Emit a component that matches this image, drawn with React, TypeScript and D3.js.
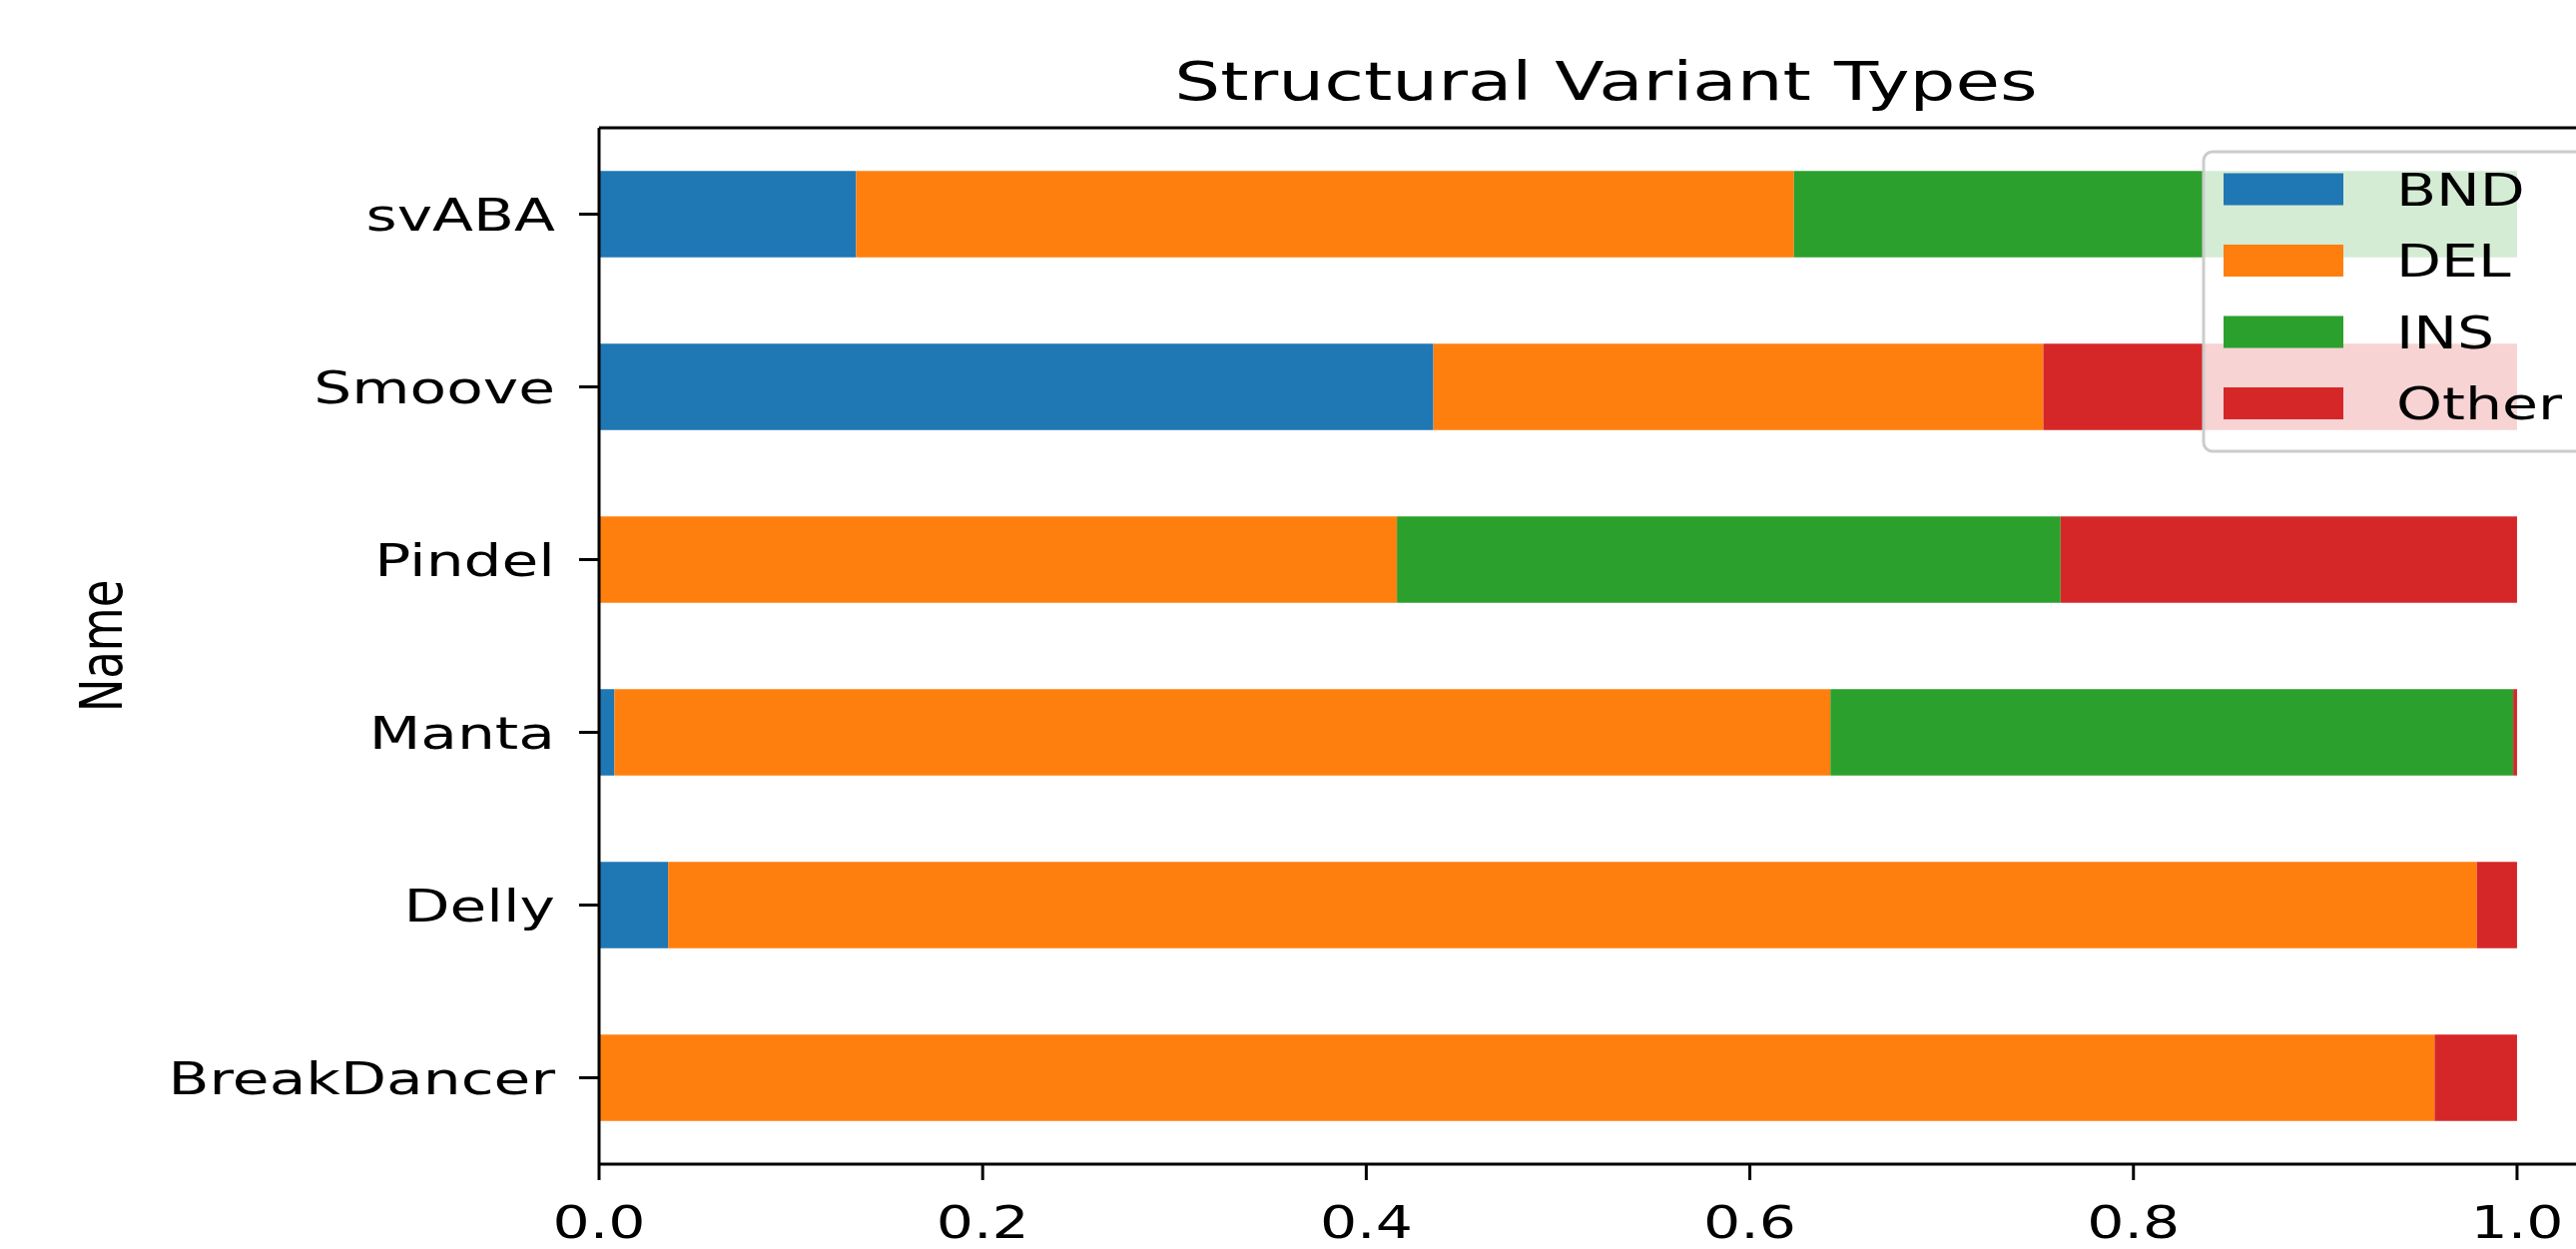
import React, { useEffect } from "react";
import * as d3 from "d3";

const names = ["svABA", "Smoove", "Pindel", "Manta", "Delly", "BreakDancer"];
const seriesKeys = ["BND", "DEL", "INS", "Other"];
const bnd = [0.134, 0.435, 0.0, 0.008, 0.036, 0.0];
const del = [0.489, 0.318, 0.416, 0.634, 0.943, 0.957];
const ins = [0.377, 0.0, 0.346, 0.356, 0.0, 0.0];
const other = [0.0, 0.247, 0.238, 0.002, 0.021, 0.043];
const colors = ["#1f77b4", "#ff7f0e", "#2ca02c", "#d62728"];
const xTicks = [0, 0.2, 0.4, 0.6, 0.8, 1.0];
const title = "Structural Variant Types";
const yLabel = "Name";

const W = 2580;
const H = 1251;
const left = 600;
const right = 2617;
const top = 128;
const bottom = 1166;
const SX = 1.3;
const FONT = "DejaVu Sans, sans-serif";

export default function App() {
  useEffect(() => {
    document.body.style.margin = "0";
  }, []);

  const x = d3.scaleLinear().domain([0, 1.05]).range([left, right]);
  const y = d3.scaleBand<string>().domain(names).range([top, bottom]).paddingInner(0.5).paddingOuter(0.25);

  const rows = names.map((n, i) => ({ name: n, BND: bnd[i], DEL: del[i], INS: ins[i], Other: other[i] }));
  const stacked = d3.stack<any>().keys(seriesKeys)(rows);

  const legendX = 2207;
  const legendY = 152;
  const rowH = 71.5;

  return (
    <svg width={W} height={H} style={{ display: "block", background: "#fff" }} xmlns="http://www.w3.org/2000/svg">
      <rect x={0} y={0} width={W} height={H} fill="#fff" />
      {stacked.map((s, si) => (
        <g key={s.key} fill={colors[si]}>
          {s.map((d: any, i: number) =>
            d[1] - d[0] > 0 ? (
              <rect key={i} x={x(d[0])} y={y(names[i])} width={x(d[1]) - x(d[0])} height={y.bandwidth()} />
            ) : null
          )}
        </g>
      ))}
      {/* spines */}
      <g stroke="#000" fill="none">
        <line x1={left} x2={left} y1={top} y2={bottom} strokeWidth={3} />
        <line x1={left} x2={right} y1={bottom} y2={bottom} strokeWidth={3} />
        <line x1={left} x2={right} y1={top} y2={top} strokeWidth={3} />
        <line x1={right} x2={right} y1={top} y2={bottom} strokeWidth={3} />
      </g>
      {/* x ticks */}
      {xTicks.map((t) => (
        <g key={t}>
          <line x1={x(t)} x2={x(t)} y1={bottom} y2={bottom + 16} stroke="#000" strokeWidth={3} />
          <text
            transform={`translate(${x(t)},1240) scale(${SX},1)`}
            textAnchor="middle"
            fontFamily={FONT}
            fontSize={45}
            fill="#000"
          >
            {d3.format(".1f")(t)}
          </text>
        </g>
      ))}
      {/* y ticks */}
      {names.map((n) => {
        const cy = (y(n) as number) + y.bandwidth() / 2;
        return (
          <g key={n}>
            <line x1={left - 20} x2={left} y1={cy} y2={cy} stroke="#000" strokeWidth={3} />
            <text
              transform={`translate(${left - 44},${cy + 16}) scale(${SX + 0.03},1)`}
              textAnchor="end"
              fontFamily={FONT}
              fontSize={45}
              fill="#000"
            >
              {n}
            </text>
          </g>
        );
      })}
      {/* y label */}
      <text
        transform={`translate(122,${(top + bottom) / 2}) scale(${SX},1) rotate(-90)`}
        textAnchor="middle"
        fontFamily={FONT}
        fontSize={45}
        fill="#000"
      >
        {yLabel}
      </text>
      {/* title */}
      <text
        transform={`translate(${(left + right) / 2},100) scale(1.34,1)`}
        textAnchor="middle"
        fontFamily={FONT}
        fontSize={54}
        fill="#000"
      >
        {title}
      </text>
      {/* legend */}
      <rect
        x={legendX}
        y={legendY}
        width={2588 - legendX}
        height={300}
        rx={9}
        fill="#fff"
        fillOpacity={0.8}
        stroke="#cccccc"
        strokeWidth={3}
      />
      {seriesKeys.map((k, i) => {
        const cy = 189.5 + i * rowH;
        return (
          <g key={k}>
            <rect x={2227} y={cy - 16} width={120} height={32} fill={colors[i]} />
            <text
              transform={`translate(2400,${cy + 16}) scale(${SX},1)`}
              fontFamily={FONT}
              fontSize={45}
              fill="#000"
            >
              {k}
            </text>
          </g>
        );
      })}
    </svg>
  );
}
